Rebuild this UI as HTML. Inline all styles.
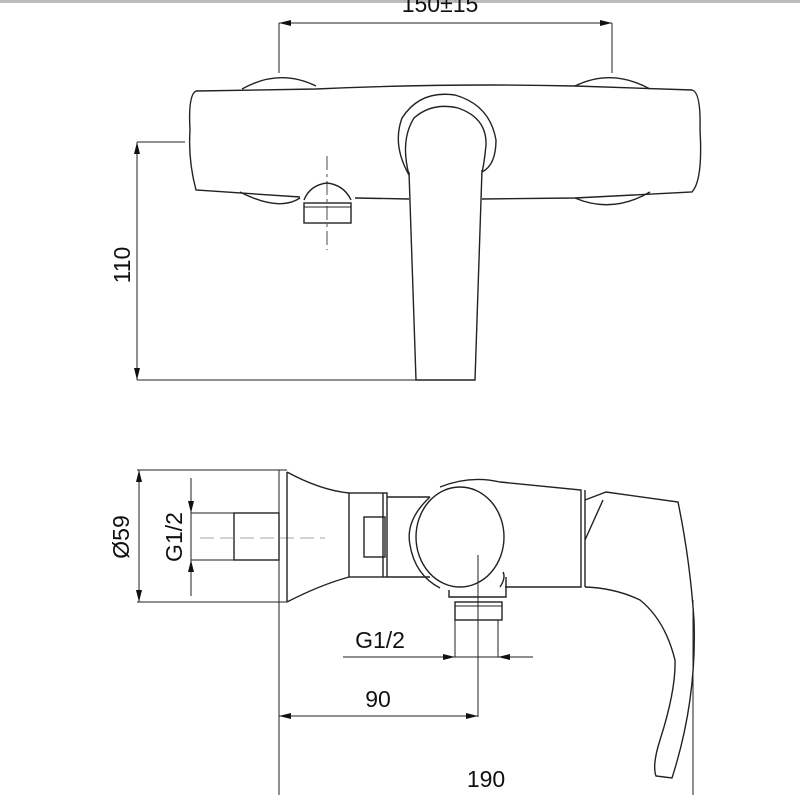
<!DOCTYPE html>
<html><head><meta charset="utf-8"><style>
html,body{margin:0;padding:0;background:#fff;width:800px;height:800px;overflow:hidden}
svg{display:block}
text{font-family:"Liberation Sans",sans-serif;fill:#111}
</style></head><body>
<svg width="800" height="800" viewBox="0 0 800 800" xmlns="http://www.w3.org/2000/svg">
<defs>
<marker id="a" viewBox="0 0 12 6" refX="12" refY="3" markerWidth="12" markerHeight="6" orient="auto-start-reverse" markerUnits="userSpaceOnUse"><path d="M0,0 L12,3 L0,6 z" fill="#111"/></marker>
</defs>
<rect x="0" y="0" width="800" height="3" fill="#bbb"/>
<g fill="none" stroke="#222" stroke-width="1.4">
<!-- TOP VIEW -->
<line x1="279" y1="23" x2="279" y2="73" stroke-width="1"/>
<line x1="612" y1="23" x2="612" y2="73" stroke-width="1"/>
<line x1="279" y1="23" x2="612" y2="23" stroke-width="1" marker-start="url(#a)" marker-end="url(#a)"/>
<path d="M242,89 Q279,68 316,86"/>
<path d="M575,86 Q612,68 650,89"/>
<path d="M240,192 Q279,212 300,198"/>
<path d="M575,198 Q612,214 650,192"/>
<path d="M196,91 L316,89 Q450,83 575,86 L692,90 Q701,92 700,130 Q703,180 692,192 L575,198 L482,199"/>
<path d="M409,199 L355,198"/>
<path d="M300,197 L196,190 Q188,160 190,130 Q188,95 196,91"/>
<path d="M409,175 Q392,145 402,118 Q420,90 455,95 Q490,105 496,140 Q496,165 482,172"/>
<path d="M409,175 Q400,140 414,118 Q432,102 458,108 Q487,118 486,145 Q484,165 482,172"/>
<path d="M409,172 L416,380 L475,380 L482,170"/>
<path d="M304,200 Q310,185 327,183 Q344,185 351,200"/>
<rect x="304" y="203" width="47" height="20"/>
<line x1="304" y1="207" x2="351" y2="207" stroke-width="1"/>
<line x1="327" y1="156" x2="327" y2="250" stroke-width="0.8" stroke-dasharray="14,4,3,4"/>
<line x1="137" y1="142" x2="185" y2="142" stroke-width="1"/>
<line x1="137" y1="380" x2="416" y2="380" stroke-width="1"/>
<line x1="137" y1="142" x2="137" y2="380" stroke-width="1" marker-start="url(#a)" marker-end="url(#a)"/>

<!-- SIDE VIEW -->
<line x1="137" y1="470" x2="287" y2="470" stroke-width="1"/>
<line x1="137" y1="602" x2="287" y2="602" stroke-width="1"/>
<line x1="139" y1="470" x2="139" y2="602" stroke-width="1" marker-start="url(#a)" marker-end="url(#a)"/>
<line x1="191" y1="478" x2="191" y2="596" stroke-width="1"/>
<line x1="191" y1="500" x2="191" y2="513" stroke-width="1" marker-end="url(#a)"/>
<line x1="191" y1="573" x2="191" y2="560" stroke-width="1" marker-end="url(#a)"/>
<line x1="191" y1="513" x2="279" y2="513" stroke-width="1"/>
<line x1="191" y1="560" x2="279" y2="560" stroke-width="1"/>
<rect x="234" y="513" width="45" height="47"/>
<line x1="200" y1="538" x2="325" y2="538" stroke-width="0.8" stroke="#888" stroke-dasharray="14,6"/>
<line x1="279" y1="470" x2="279" y2="795" stroke-width="1"/>
<line x1="287" y1="472" x2="287" y2="602"/>
<path d="M287,472 Q320,490 349,493"/>
<path d="M287,602 Q320,585 349,577"/>
<rect x="349" y="493" width="38" height="84"/>
<line x1="383" y1="493" x2="383" y2="577"/>
<rect x="364" y="517" width="21" height="40"/>
<path d="M387,497 L430,497"/>
<path d="M387,577 L430,577"/>
<path d="M430,497 Q405,520 410,545 Q415,575 440,588"/>
<ellipse cx="460" cy="537" rx="44" ry="50"/>
<path d="M440,487 Q470,475 500,482 L581,490 L581,587 L505,587"/>
<line x1="585" y1="490" x2="585" y2="587"/>
<path d="M500,587 Q506,578 503,572 M449,590 L449,597 L506,597 L506,577"/>
<rect x="455" y="602" width="47" height="18"/>
<line x1="455" y1="606" x2="502" y2="606" stroke-width="1"/>
<line x1="478" y1="555" x2="478" y2="717" stroke-width="1"/>
<path d="M585,500 L606,492 L678,502 Q690,560 694,620 Q697,700 672,778 L656,776 Q652,765 660,740 Q676,690 675,660 Q665,620 640,600 Q615,588 585,587"/>
<path d="M585,540 L603,500"/>
<line x1="455" y1="620" x2="455" y2="657" stroke-width="1"/>
<line x1="498" y1="620" x2="498" y2="657" stroke-width="1"/>
<line x1="343" y1="657" x2="533" y2="657" stroke-width="1"/>
<line x1="435" y1="657" x2="455" y2="657" stroke-width="1" marker-end="url(#a)"/>
<line x1="518" y1="657" x2="498" y2="657" stroke-width="1" marker-end="url(#a)"/>
<line x1="279" y1="716" x2="478" y2="716" stroke-width="1" marker-start="url(#a)" marker-end="url(#a)"/>
<line x1="693" y1="600" x2="693" y2="795" stroke-width="1"/>
</g>
<text x="440" y="12" font-size="23" text-anchor="middle">150±15</text>
<text transform="translate(130,265) rotate(-90)" font-size="23" text-anchor="middle">110</text>
<text transform="translate(129,537) rotate(-90)" font-size="23" text-anchor="middle">Ø59</text>
<text transform="translate(182,537) rotate(-90)" font-size="23" text-anchor="middle">G1/2</text>
<text x="380" y="648" font-size="23" text-anchor="middle">G1/2</text>
<text x="378" y="707" font-size="23" text-anchor="middle">90</text>
<text x="486" y="787" font-size="23" text-anchor="middle">190</text>
</svg>
</body></html>
